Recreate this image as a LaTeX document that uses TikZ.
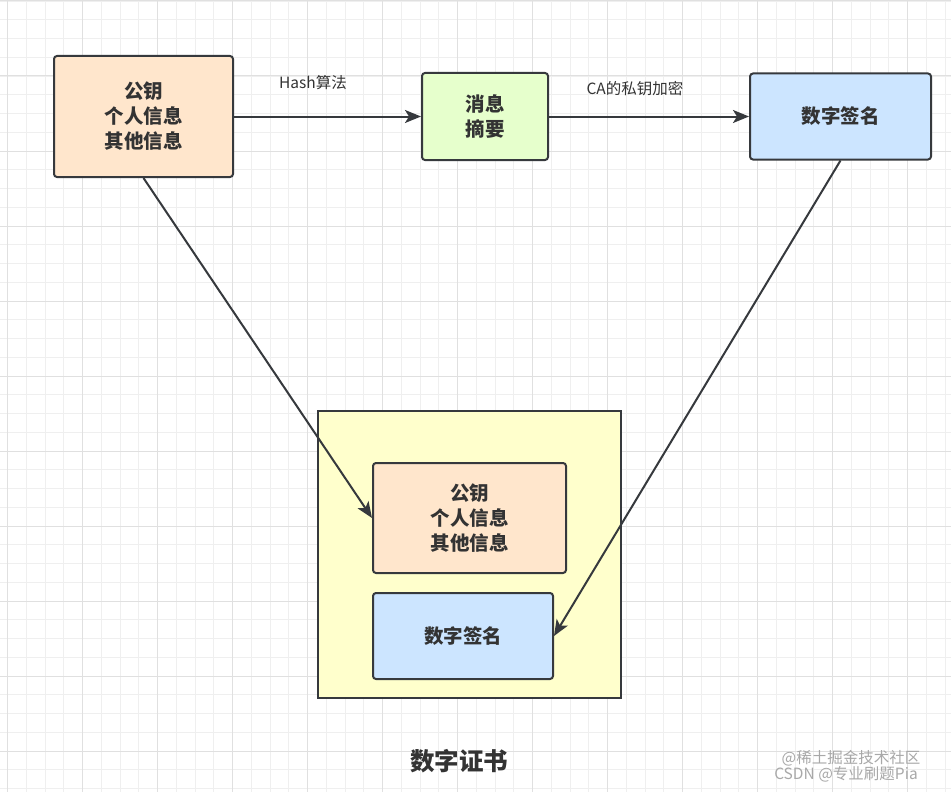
\documentclass[tikz,border=0pt]{standalone}
\usepackage{fontspec}
\setmainfont{Noto Sans CJK SC}
\usetikzlibrary{arrows.meta}
\definecolor{strokec}{HTML}{36393D}
\definecolor{textc}{HTML}{333333}
\definecolor{orangef}{HTML}{FFE6CC}
\definecolor{greenf}{HTML}{E6FFCC}
\definecolor{bluef}{HTML}{CCE5FF}
\definecolor{yellowf}{HTML}{FFFFCC}
\definecolor{gridminor}{HTML}{EFEFEF}
\definecolor{gridmajor}{HTML}{E0E0E0}
\definecolor{wmark}{HTML}{A8A8A8}
\tikzset{
  box/.style={draw=strokec, line width=2pt, rounded corners=3pt, inner sep=0pt,
    align=center, text=textc, font=\fontsize{19.5}{25}\selectfont\bfseries},
  conn/.style={draw=strokec, line width=2pt,
    -{Stealth[length=16pt,width=13pt,inset=4pt]}},
  elabel/.style={text=textc, font=\fontsize{15.5}{18}\selectfont, inner sep=0pt},
  wm/.style={text=wmark, font=\fontsize{15.5}{18}\selectfont, inner sep=0pt}
}
\begin{document}
\begin{tikzpicture}[x=1pt,y=-1pt]
\useasboundingbox (0,0) rectangle (951,792);
\fill[white] (0,0) rectangle (951,792);
% grid
\foreach \i in {0,...,51} {
  \pgfmathsetmacro\gx{7.5+18.75*(\i-1)}
  \draw[gridminor, line width=0.9pt] (\gx,0) -- (\gx,792);
}
\foreach \i in {0,...,43} {
  \pgfmathsetmacro\gy{1+18.75*\i}
  \draw[gridminor, line width=0.9pt] (0,\gy) -- (951,\gy);
}
\foreach \i in {0,...,12} {
  \pgfmathsetmacro\gx{7.5+75*\i}
  \draw[gridmajor, line width=1pt] (\gx,0) -- (\gx,792);
}
\foreach \i in {0,...,10} {
  \pgfmathsetmacro\gy{1+75*\i}
  \draw[gridmajor, line width=1pt] (0,\gy) -- (951,\gy);
}
% top row
\node[box, fill=orangef, minimum width=179pt, minimum height=121pt] (info) at (143.5,116.5) {公钥\\个人信息\\其他信息};
\node[box, fill=greenf, minimum width=126pt, minimum height=87pt] (digest) at (485,116.5) {消息\\摘要};
\node[box, fill=bluef, minimum width=181pt, minimum height=86pt] (sig) at (840.5,116.5) {数字签名};
% certificate
\node[draw=strokec, line width=2pt, fill=yellowf, minimum width=303pt, minimum height=287pt, inner sep=0pt] (cert) at (469.5,554.5) {};
\node[box, fill=orangef, minimum width=193pt, minimum height=110pt] (cinfo) at (469.5,518) {公钥\\个人信息\\其他信息};
\node[box, fill=bluef, minimum width=180pt, minimum height=86pt] (csig) at (463,636) {数字签名};
\node[text=textc, font=\fontsize{24.5}{28}\selectfont\bfseries, inner sep=0pt] (title) at (459,761) {数字证书};
% connectors
\draw[conn] (info.east) -- (digest.west);
\draw[conn] (digest.east) -- (sig.west);
\draw[conn] (info.south) -- (cinfo.west);
\draw[conn] (sig.south) -- (csig.east);
\node[elabel] (lhash) at (313,83) {Hash算法};
\node[elabel] (lca) at (635,89) {CA的私钥加密};
% watermark
\node[wm] (wm1) at (851,758) {@稀土掘金技术社区};
\node[wm] (wm2) at (846,774) {CSDN @专业刷题Pia};
\end{tikzpicture}
\end{document}
